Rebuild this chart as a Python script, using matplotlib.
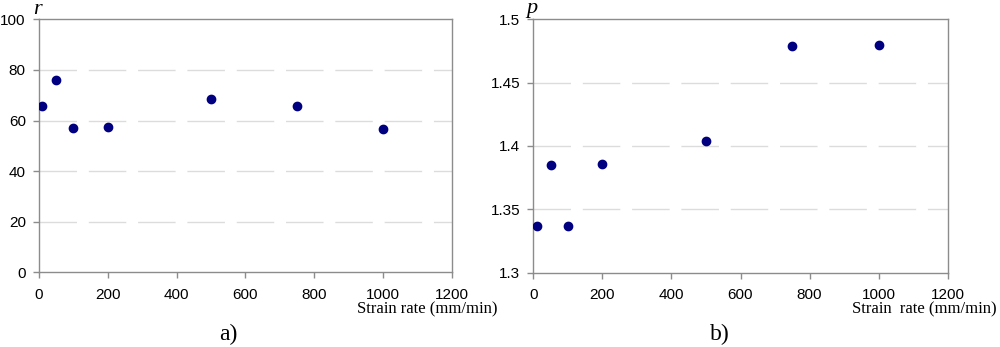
import matplotlib
matplotlib.use("Agg")
import matplotlib.pyplot as plt

strain_rate = [10, 50, 100, 200, 500, 750, 1000]
r_values = [65.6, 75.9, 57.0, 57.4, 68.4, 65.6, 56.8]
p_values = [1.337, 1.385, 1.337, 1.386, 1.404, 1.479, 1.480]
x_ticks = [0, 200, 400, 600, 800, 1000, 1200]
r_ticks = [0, 20, 40, 60, 80, 100]
p_ticks = [1.3, 1.35, 1.4, 1.45, 1.5]
p_tick_labels = ["1.3", "1.35", "1.4", "1.45", "1.5"]

fig = plt.figure(figsize=(10, 3.47), dpi=100)
W, H = 1000, 347

def make_axes(left, right, top, bottom):
    return fig.add_axes([left / W, 1 - bottom / H, (right - left) / W, (bottom - top) / H])

ax1 = make_axes(39, 452, 19.3, 272.3)
ax2 = make_axes(533.3, 947.7, 19.3, 272.5)

sans = ["Liberation Sans", "DejaVu Sans"]
serif = ["Liberation Serif", "DejaVu Serif"]

def style(ax, yticks, ylim, ylabels=None):
    ax.set_xlim(0, 1200)
    ax.set_ylim(*ylim)
    ax.set_xticks(x_ticks)
    ax.set_yticks(yticks)
    if ylabels is not None:
        ax.set_yticklabels(ylabels)
    for s in ax.spines.values():
        s.set_color("#8c8c8c")
        s.set_linewidth(1.0)
    ax.tick_params(direction="out", length=4, width=1, color="#8c8c8c",
                   labelsize=11, labelcolor="black")
    ax.yaxis.set_tick_params(pad=5.5)
    ax.xaxis.set_tick_params(pad=7)
    for lab in ax.get_xticklabels() + ax.get_yticklabels():
        lab.set_family(sans)
    for y in yticks[1:-1]:
        ax.axhline(y, color="#dcdcdc", linewidth=1.0, linestyle=(0, (27, 8.5)), zorder=0)

style(ax1, r_ticks, (0, 100))
style(ax2, p_ticks, (1.3, 1.5), p_tick_labels)

ax1.plot(strain_rate, r_values, "o", color="#000080", markersize=6, zorder=3)
ax2.plot(strain_rate, p_values, "o", color="#000080", markersize=6, zorder=3)

fig.text(33 / W, 1 - 9 / H, "r", family=serif, style="italic", fontsize=16, ha="left", va="center")
fig.text(526 / W, 1 - 9 / H, "p", family=serif, style="italic", fontsize=16, ha="left", va="center")

fig.text(357 / W, 1 - 309 / H, "Strain rate (mm/min)", family=serif, fontsize=12, ha="left", va="center")
fig.text(852 / W, 1 - 309 / H, "Strain  rate (mm/min)", family=serif, fontsize=12, ha="left", va="center")

fig.text(228 / W, 1 - 334 / H, "a)", family=serif, fontsize=17, ha="center", va="center")
fig.text(720 / W, 1 - 334 / H, "b)", family=serif, fontsize=17, ha="center", va="center")

fig.savefig("out.png", dpi=100)
